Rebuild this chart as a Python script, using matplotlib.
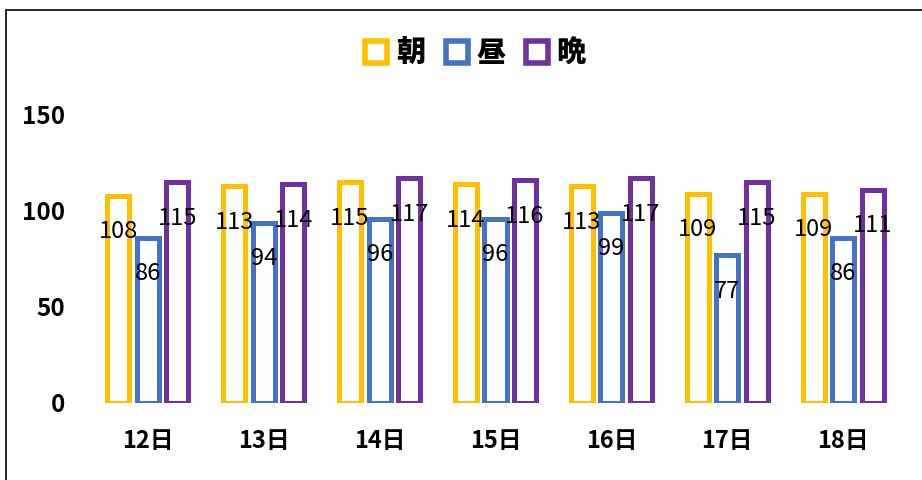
import matplotlib
matplotlib.use("Agg")
import matplotlib.pyplot as plt
from matplotlib.lines import Line2D
import numpy as np

plt.rcParams['font.family'] = ['Noto Sans CJK JP', 'DejaVu Sans']

categories = ["12日", "13日", "14日", "15日", "16日", "17日", "18日"]
series_names = ["朝", "昼", "晩"]
morning = [108, 113, 115, 114, 113, 109, 109]
noon = [86, 94, 96, 96, 99, 77, 86]
evening = [115, 114, 117, 116, 117, 115, 111]
yticks = [0, 50, 100, 150]
colors = ["#FFC000", "#4472C4", "#7030A0"]

DPI = 100
fig = plt.figure(figsize=(9.22, 4.8), dpi=DPI)
ax = fig.add_axes([90/922, 77/480, 811/922, 288/480])

x = np.arange(len(categories))
pitch = 0.255
width = 0.19
lw_px = 5.0
lw = lw_px * 72 / DPI

for i, (vals, c) in enumerate(zip([morning, noon, evening], colors)):
    xs = x + (i - 1) * pitch
    ax.bar(xs, vals, width=width, facecolor="white", edgecolor=c, linewidth=lw)
    for xi, v in zip(xs, vals):
        ax.annotate(str(v), (xi, v), xytext=(0, -36 * 72 / DPI), textcoords="offset points",
                    ha="center", va="center", fontsize=17, color="black")

ax.set_xlim(-0.5, len(categories) - 0.5)
ax.set_ylim(0, 150)
ax.set_yticks(yticks)
ax.set_yticklabels([str(t) for t in yticks], fontsize=17.5, fontweight="bold")
ax.set_xticks(x)
ax.set_xticklabels(categories, fontsize=17, fontweight="bold")
ax.tick_params(axis="y", length=0, pad=18)
ax.tick_params(axis="x", length=0, pad=19)
for s in ax.spines.values():
    s.set_visible(False)

handles = [Line2D([], [], linestyle="none", marker="s", markersize=16.5,
                  markerfacecolor="white", markeredgecolor=c, markeredgewidth=4.0)
           for c in colors]
leg = fig.legend(handles, series_names, loc="center", bbox_to_anchor=(474/922, 1 - 53/480),
                 ncol=3, frameon=False, handlelength=0.95, handletextpad=0.2,
                 columnspacing=0.6, prop={"size": 21, "weight": "black"})

# chart border (left and top visible)
fig.add_artist(Line2D([5.5/922, 5.5/922], [0, 1 - 9.5/480], transform=fig.transFigure,
                      color="#222222", linewidth=1.4))
fig.add_artist(Line2D([5.5/922, 1], [1 - 9.5/480, 1 - 9.5/480], transform=fig.transFigure,
                      color="#222222", linewidth=1.4))

fig.savefig("out.png", dpi=DPI)
